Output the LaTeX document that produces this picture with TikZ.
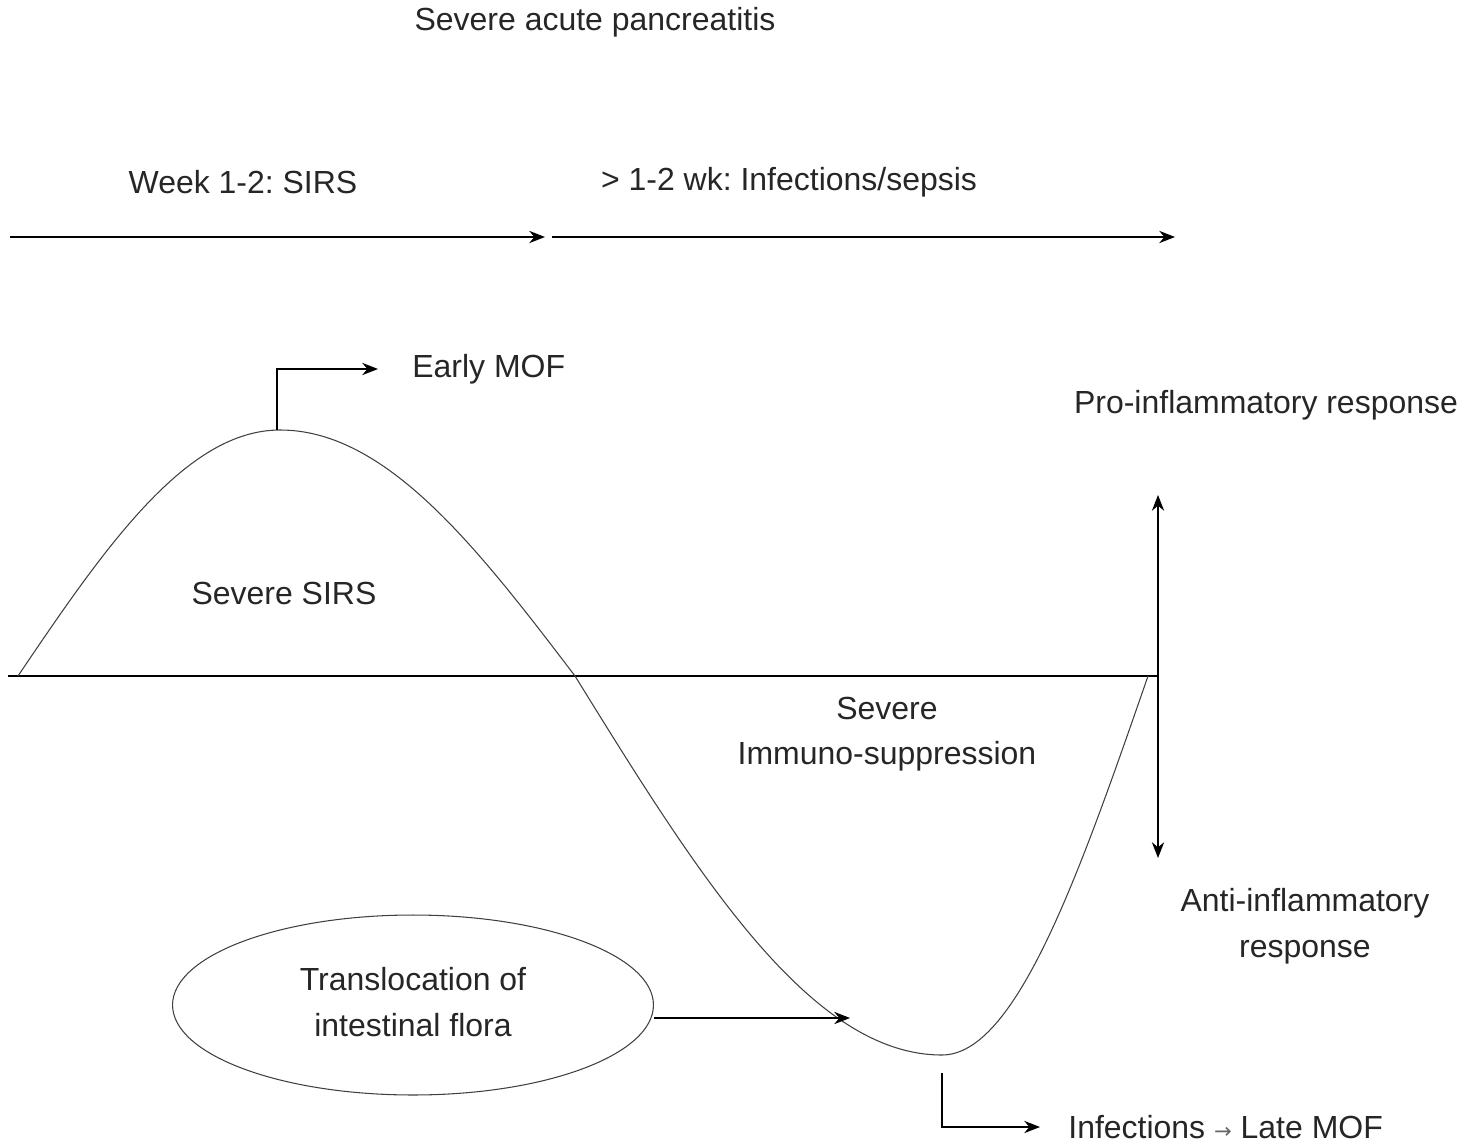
\documentclass[tikz,border=0pt]{standalone}
\usepackage{fontspec}
\setmainfont{Liberation Sans}
\newfontfamily\symfont{DejaVu Sans}
\usetikzlibrary{arrows.meta,shapes.geometric}
\frenchspacing
\tikzset{
  lbl/.style={font=\fontsize{18.2pt}{26pt}\selectfont, align=center, inner sep=0pt, text=black!85},
  fleche/.style={line width=0.8pt, -{Stealth[length=9pt,width=7pt]}},
  courbe/.style={line width=0.6pt, black!75}
}
\begin{document}
\begin{tikzpicture}[x=0.02cm, y=-0.02cm]
        \useasboundingbox (0,0) rectangle (1480,1145);

        % Titre et phases
        \node[lbl] (titre) at (595,22) {Severe acute pancreatitis};
        \node[lbl] (phase1) at (243,182) {Week 1-2: SIRS};
        \node[lbl] (phase2) at (789,182) {> 1-2 wk: Infections/sepsis};

        % Axe du temps
        \coordinate (t0) at (10,237);
        \coordinate (t1) at (545,237);
        \coordinate (t2) at (552,237);
        \coordinate (t3) at (1175,237);
        \draw[fleche] (t0) -- (t1);
        \draw[fleche] (t2) -- (t3);

        % Axe horizontal et double fleche
        \coordinate (axeG) at (8,676);
        \coordinate (axeD) at (1158,676);
        \coordinate (haut) at (1158,495);
        \coordinate (bas) at (1158,858);
        \draw[line width=0.8pt] (axeG) -- (axeD);
        \draw[fleche] (axeD) -- (haut);
        \draw[fleche] (axeD) -- (bas);
        \node[lbl] (pro) at (1266,405) {Pro-inflammatory response};
        \node[lbl] (anti) at (1305,926) {Anti-inflammatory\\response};

        % Courbe de la reponse
        \coordinate (debut) at (18,676);
        \coordinate (pic) at (280,430);
        \coordinate (zero) at (575,676);
        \coordinate (creux) at (942,1055);
        \coordinate (fin) at (1148,676);
        \draw[courbe] (debut) .. controls (105,547) and (186,430) .. (pic)
                     .. controls (386,430) and (477,547) .. (zero)
                     .. controls (698,875) and (810,1055) .. (creux)
                     .. controls (1016,1055) and (1079,875) .. (fin);
        \node[lbl] (sirs) at (284,593) {Severe SIRS};
        \node[lbl] (immuno) at (887,734) {Severe\\Immuno-suppression};

        % MOF precoce
        \coordinate (m2) at (378,369);
        \draw[fleche] (pic) ++(-3,0) |- (m2);
        \node[lbl, anchor=west] (early) at (412,369) {Early MOF};

        % Translocation
        \node[ellipse, draw, courbe, minimum width=9.62cm, minimum height=3.6cm] (flore) at (413,1005) {};
        \node[lbl] (transl) at (413,1002) {Translocation of\\intestinal flora};
        \coordinate (impact) at (850,1018);
        \draw[fleche] (flore.east |- impact) -- (impact);

        % MOF tardive
        \coordinate (c1) at (942,1073);
        \coordinate (c2) at (1040,1127);
        \draw[fleche] (c1) |- (c2);
        \node[lbl, anchor=west] (late) at (1068,1127) {Infections {\symfont\fontsize{12pt}{12pt}\selectfont\color{black!60}→} Late MOF};

    \end{tikzpicture}
\end{document}
